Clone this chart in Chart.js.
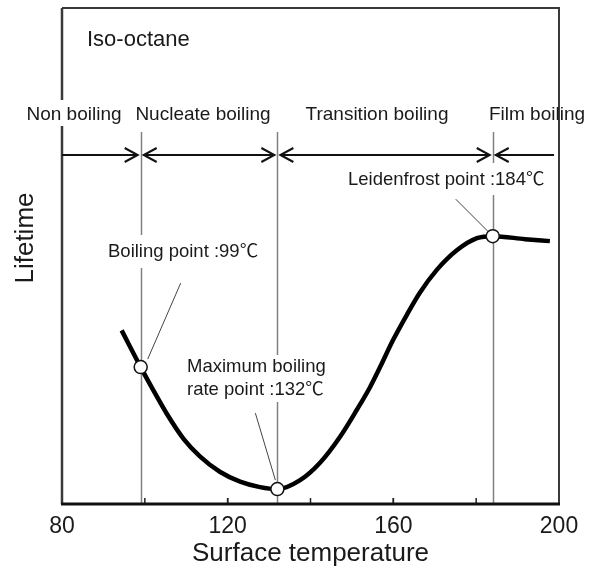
<!DOCTYPE html>
<html>
<head>
<meta charset="utf-8">
<script src="https://cdn.jsdelivr.net/npm/chart.js@4.4.1/dist/chart.umd.min.js"></script>
<style>
  body { margin: 0; background: #fff; }
  canvas { display: block; }
</style>
</head>
<body>
<canvas id="lifetimeChart" width="598" height="569"></canvas>
<script>
// droplet lifetime vs. surface temperature (iso-octane), lifetime in arbitrary units
const temperature = [94.4, 99, 102, 105.3, 109.3, 113.3, 118.1, 123, 127.8, 132, 137.5, 142.3, 147.1, 151.2, 154.4, 156.8, 159.9, 163.3, 166.4, 170.5, 175.4, 180.2, 184, 191.8, 197.8];
const lifetime = [35.0, 27.6, 23.0, 18.2, 13.2, 9.6, 6.5, 4.5, 3.4, 3.0, 4.8, 8.3, 13.5, 19.0, 23.6, 27.6, 33.0, 38.2, 42.6, 47.2, 51.2, 53.6, 54.0, 53.4, 53.0];
const xTickLabels = [80, 120, 160, 200];
const regimes = ["Non boiling", "Nucleate boiling", "Transition boiling", "Film boiling"];
const boundaries = [99, 132, 184];
const fluidName = "Iso-octane";

const FONT = "'Liberation Sans', Arial, 'Noto Sans CJK JP', sans-serif";

const curvePoints = temperature.map((t, i) => ({ x: t, y: lifetime[i] }));
const markerPoints = boundaries.map(t => ({ x: t, y: lifetime[temperature.indexOf(t)] }));

function arrowHead(ctx, x, y, dir) {
  ctx.beginPath();
  ctx.moveTo(x - dir * 13, y - 7);
  ctx.lineTo(x, y);
  ctx.lineTo(x - dir * 13, y + 7);
  ctx.stroke();
}

function vLine(ctx, x, y1, y2) {
  ctx.beginPath();
  ctx.moveTo(x, y1);
  ctx.lineTo(x, y2);
  ctx.stroke();
}

const decorations = {
  id: "decorations",
  beforeDatasetsDraw(chart) {
    const { ctx, chartArea: a, scales: { x, y } } = chart;
    ctx.save();

    // regime boundaries, broken where the point labels sit
    const gaps = [[235, 268], [355, 402], [163, 195]];
    ctx.strokeStyle = "#808080";
    ctx.lineWidth = 1.5;
    boundaries.forEach((t, i) => {
      const px = Math.round(x.getPixelForValue(t)) + 0.5;
      vLine(ctx, px, 132, gaps[i][0]);
      vLine(ctx, px, gaps[i][1], a.bottom);
    });

    // inward ticks on the temperature axis
    ctx.strokeStyle = "#222";
    ctx.lineWidth = 1.5;
    for (let t = 100; t < 200; t += 20) {
      vLine(ctx, x.getPixelForValue(t), a.bottom, a.bottom - 6);
    }
    [120, 160].forEach(t => vLine(ctx, x.getPixelForValue(t), a.bottom, a.bottom - 6));

    // frame: top and right thin, left broken by the first regime label
    ctx.strokeStyle = "#3a3a3a";
    ctx.lineWidth = 2;
    ctx.beginPath();
    ctx.moveTo(a.left, a.top);
    ctx.lineTo(a.right, a.top);
    ctx.lineTo(a.right, a.bottom);
    ctx.stroke();
    ctx.lineWidth = 2.5;
    vLine(ctx, a.left, a.top, 100);
    vLine(ctx, a.left, 126, a.bottom);
    ctx.strokeStyle = "#111";
    ctx.lineWidth = 3;
    ctx.beginPath();
    ctx.moveTo(a.left - 1, a.bottom);
    ctx.lineTo(a.right + 1, a.bottom);
    ctx.stroke();

    // regime arrows
    const ay = 155;
    const bx = boundaries.map(t => x.getPixelForValue(t));
    const ends = [a.left, ...bx, x.getPixelForValue(198.8)];
    ctx.strokeStyle = "#111";
    ctx.lineWidth = 2;
    for (let i = 0; i < ends.length - 1; i++) {
      const x1 = i === 0 ? ends[i] : ends[i] + 3;
      const x2 = i === ends.length - 2 ? ends[i + 1] : ends[i + 1] - 3;
      ctx.beginPath();
      ctx.moveTo(x1, ay);
      ctx.lineTo(x2, ay);
      ctx.stroke();
      if (i > 0) arrowHead(ctx, x1, ay, -1);
      if (i < ends.length - 2) arrowHead(ctx, x2, ay, 1);
    }

    // leader lines from the labels to the marked points
    const leaders = [[7, -8, 40, -84], [-2, -9, -22, -76], [-5, -5, -37, -37]];
    ctx.strokeStyle = "#444";
    ctx.lineWidth = 1;
    markerPoints.forEach((p, i) => {
      const mx = x.getPixelForValue(p.x), my = y.getPixelForValue(p.y);
      const l = leaders[i];
      ctx.beginPath();
      ctx.moveTo(mx + l[0], my + l[1]);
      ctx.lineTo(mx + l[2], my + l[3]);
      ctx.stroke();
    });
    ctx.restore();
  },
  afterDraw(chart) {
    const { ctx } = chart;
    ctx.save();
    ctx.fillStyle = "#1a1a1a";
    ctx.textBaseline = "middle";

    ctx.font = "22px " + FONT;
    ctx.textAlign = "left";
    ctx.fillText(fluidName, 87, 40);

    ctx.font = "19px " + FONT;
    ctx.textAlign = "center";
    const regimeX = [74, 203, 377, 537];
    regimes.forEach((r, i) => ctx.fillText(r, regimeX[i], 115));

    ctx.font = "18.5px " + FONT;
    ctx.textAlign = "left";
    ctx.fillText("Boiling point :" + boundaries[0] + "℃", 108, 252);
    ctx.fillText("Maximum boiling", 187, 367);
    ctx.fillText("rate point :" + boundaries[1] + "℃", 187, 390);
    ctx.fillText("Leidenfrost point :" + boundaries[2] + "℃", 348, 180);

    ctx.font = "26px " + FONT;
    ctx.translate(26, 238);
    ctx.rotate(-Math.PI / 2);
    ctx.textAlign = "center";
    ctx.fillText("Lifetime", 0, 0);
    ctx.restore();
  }
};

new Chart(document.getElementById("lifetimeChart"), {
  type: "line",
  data: {
    datasets: [
      {
        data: markerPoints,
        showLine: false,
        pointRadius: 6.5,
        pointBackgroundColor: "#fff",
        pointBorderColor: "#111",
        pointBorderWidth: 1.5,
        order: 0
      },
      {
        data: curvePoints,
        borderColor: "#000",
        borderWidth: 4.5,
        cubicInterpolationMode: "monotone",
        pointRadius: 0,
        fill: false,
        order: 1
      }
    ]
  },
  options: {
    responsive: false,
    animation: false,
    layout: { padding: { left: 62, top: 8, right: 39, bottom: 0 } },
    plugins: { legend: { display: false }, tooltip: { enabled: false } },
    scales: {
      x: {
        type: "linear",
        min: 80,
        max: 200,
        grid: { display: false, drawTicks: false },
        border: { display: false },
        ticks: {
          stepSize: 20,
          padding: 9,
          color: "#1a1a1a",
          font: { family: FONT, size: 23 },
          maxRotation: 0,
          autoSkip: false,
          callback: v => (xTickLabels.includes(v) ? String(v) : "")
        },
        title: {
          display: true,
          text: "Surface temperature",
          color: "#1a1a1a",
          font: { family: FONT, size: 26 },
          padding: { top: 0, bottom: 0 }
        },
        afterFit: scale => { scale.height = 65; }
      },
      y: { display: false, min: 0, max: 100 }
    }
  },
  plugins: [decorations]
});
</script>
</body>
</html>
